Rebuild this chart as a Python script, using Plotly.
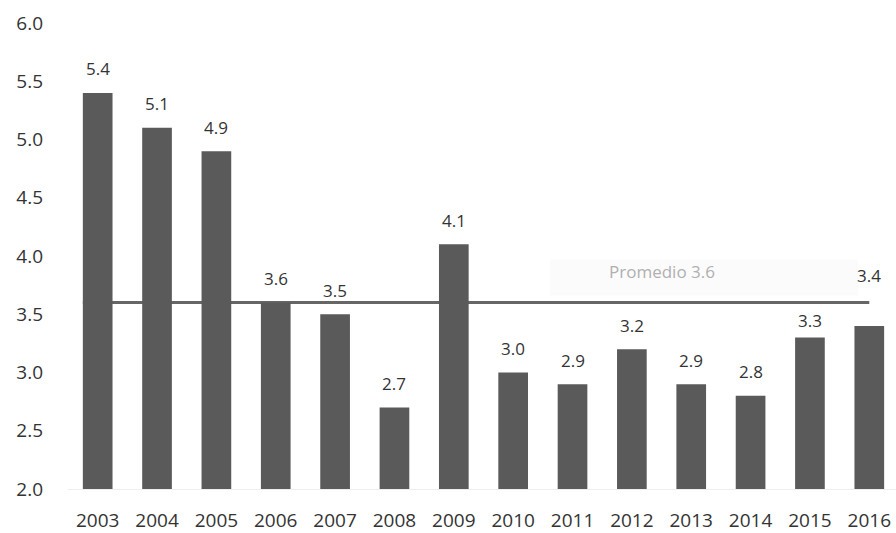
import plotly.graph_objects as go

years = ["2003", "2004", "2005", "2006", "2007", "2008", "2009",
         "2010", "2011", "2012", "2013", "2014", "2015", "2016"]
values = [5.4, 5.1, 4.9, 3.6, 3.5, 2.7, 4.1, 3.0, 2.9, 3.2, 2.9, 2.8, 3.3, 3.4]
average = 3.6
y_ticks = [2.0, 2.5, 3.0, 3.5, 4.0, 4.5, 5.0, 5.5, 6.0]

font_family = "Open Sans, Lato, sans-serif"
label_lift = 24                      # px between bar top and value label centre
label_lift_override = {"2015": 17, "2016": 50}

fig = go.Figure()

# faint panel behind the average caption
fig.add_shape(
    type="rect", xref="x", yref="y",
    x0=7.62, x1=12.81, y0=3.66, y1=3.97,
    fillcolor="#fbfbfb", line=dict(width=0), layer="below",
)

fig.add_trace(go.Bar(
    x=years,
    y=[v - 2.0 for v in values],
    base=2.0,
    marker=dict(color="#5a5a5a", line=dict(width=0)),
    hoverinfo="skip",
))

# average line across the years
fig.add_shape(
    type="line", xref="x", yref="y",
    x0=-0.25, x1=13.0, y0=average, y1=average,
    line=dict(color="#666666", width=3),
    layer="below",
)

# value labels above each bar (positioned by category index)
for i, (yr, v) in enumerate(zip(years, values)):
    fig.add_annotation(
        x=i, y=v, xref="x", yref="y",
        text=f"{v:.1f}", showarrow=False,
        yanchor="middle", yshift=label_lift_override.get(yr, label_lift),
        font=dict(size=17, color="#333333", family=font_family),
    )

fig.add_annotation(
    x=9.5, y=3.87, xref="x", yref="y",
    text=f"Promedio {average:.1f}",
    showarrow=False, yanchor="middle",
    font=dict(size=17, color="#b0b0b0", family=font_family),
)

fig.update_layout(
    width=896, height=533,
    margin=dict(l=68, r=0, t=23, b=40),
    paper_bgcolor="white",
    plot_bgcolor="white",
    showlegend=False,
    bargap=0.5,
)

fig.update_xaxes(
    type="category",
    range=[-0.5, 13.45],
    showgrid=False,
    showline=True,
    linecolor="#eeeeee",
    linewidth=1,
    ticks="",
    ticklabelstandoff=14,
    tickfont=dict(size=19, color="#333333", family=font_family),
)

fig.update_yaxes(
    range=[2.0, 6.0],
    tickvals=y_ticks,
    ticktext=[f"{t:.1f}" for t in y_ticks],
    showgrid=False,
    zeroline=False,
    showline=False,
    ticks="",
    ticklabelstandoff=24,
    tickfont=dict(size=19, color="#333333", family=font_family),
)

fig.write_html("out.html")
